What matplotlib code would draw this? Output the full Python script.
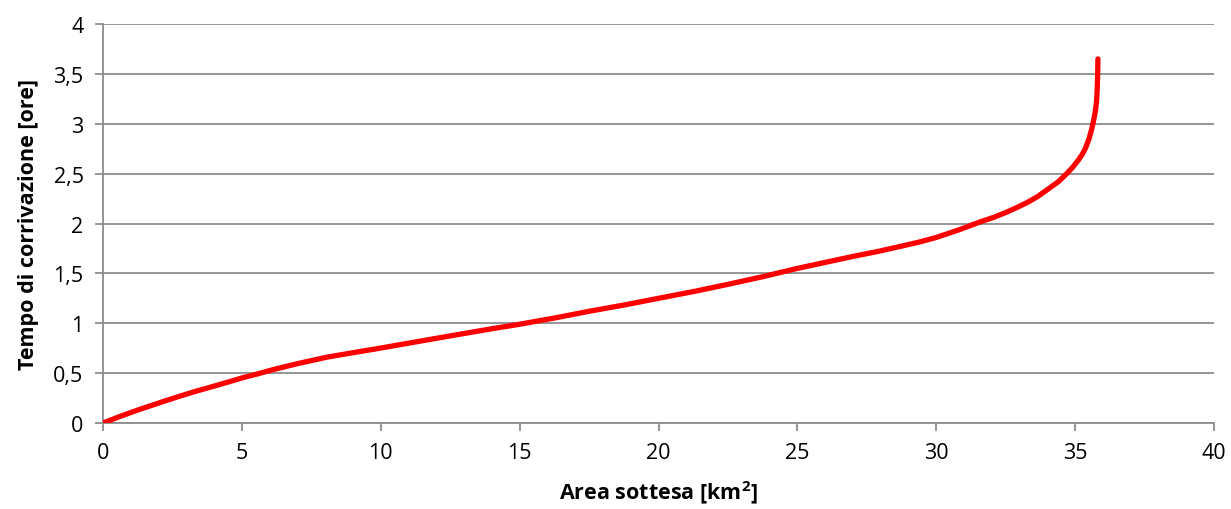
import numpy as np
import matplotlib.pyplot as plt

# Curve
area = [0, 0.6, 1.3, 2.0, 2.66, 3.3, 4.0, 4.5, 5.04, 5.6, 6.12, 7.0, 8.06, 9.0, 9.97,
        11.4, 12.85, 14.0, 15.0, 16.3, 17.5, 18.8, 20.0, 21.3, 22.5, 23.8, 25.0,
        26.0, 27.0, 27.9, 28.7, 29.4, 30.0, 30.8, 31.57, 32.1, 32.5, 32.9, 33.27,
        33.65, 34.0, 34.4, 34.7, 34.9, 35.1, 35.25, 35.38, 35.5, 35.6, 35.67, 35.73,
        35.77, 35.79, 35.81, 35.82]
tempo = [0, 0.065, 0.135, 0.20, 0.26, 0.315, 0.37, 0.41, 0.455, 0.495, 0.535, 0.595, 0.66, 0.705,
         0.75, 0.82, 0.89, 0.945, 0.99, 1.055, 1.12, 1.185, 1.25, 1.32, 1.39, 1.47, 1.55,
         1.61, 1.67, 1.72, 1.77, 1.815, 1.86, 1.935, 2.015, 2.065, 2.11, 2.16, 2.21,
         2.27, 2.34, 2.42, 2.50, 2.56, 2.63, 2.69, 2.76, 2.85, 2.95, 3.04, 3.13,
         3.22, 3.32, 3.48, 3.65]

xticks = [0, 5, 10, 15, 20, 25, 30, 35, 40]
yticks = [0, 0.5, 1, 1.5, 2, 2.5, 3, 3.5, 4]
ylabels = ["0", "0,5", "1", "1,5", "2", "2,5", "3", "3,5", "4"]

plt.rcParams['font.family'] = ['Open Sans', 'DejaVu Sans']

fig = plt.figure(figsize=(12.31, 5.10), dpi=100)
ax = fig.add_axes([0.0837, 0.1686, 0.9025, 0.7824])

gray = "#8c8c8c"
ax.plot(area, tempo, color="#ff0000", lw=3.8, solid_capstyle="round",
        solid_joinstyle="round", zorder=3)

ax.set_xlim(0, 40)
ax.set_ylim(0, 4)
ax.set_xticks(xticks)
ax.set_xticklabels([str(t) for t in xticks])
ax.set_yticks(yticks)
ax.set_yticklabels(ylabels)
ax.grid(axis="y", color=gray, lw=1.3)
ax.set_axisbelow(True)

for s in ["top", "right"]:
    ax.spines[s].set_visible(False)
for s in ["left", "bottom"]:
    ax.spines[s].set_color(gray)
    ax.spines[s].set_linewidth(1.3)
ax.tick_params(axis="both", colors=gray, length=6, width=1.3, labelcolor="black", labelsize=15.5)
ax.tick_params(axis="x", pad=8)
ax.tick_params(axis="y", pad=8)

ax.set_xlabel("Area sottesa [km$^\\mathregular{2}$]", fontsize=15.5, fontweight="bold", labelpad=11)
ax.set_ylabel("Tempo di corrivazione [ore]", fontsize=15.5, fontweight="bold", labelpad=10)

plt.savefig("out.png", dpi=100)
